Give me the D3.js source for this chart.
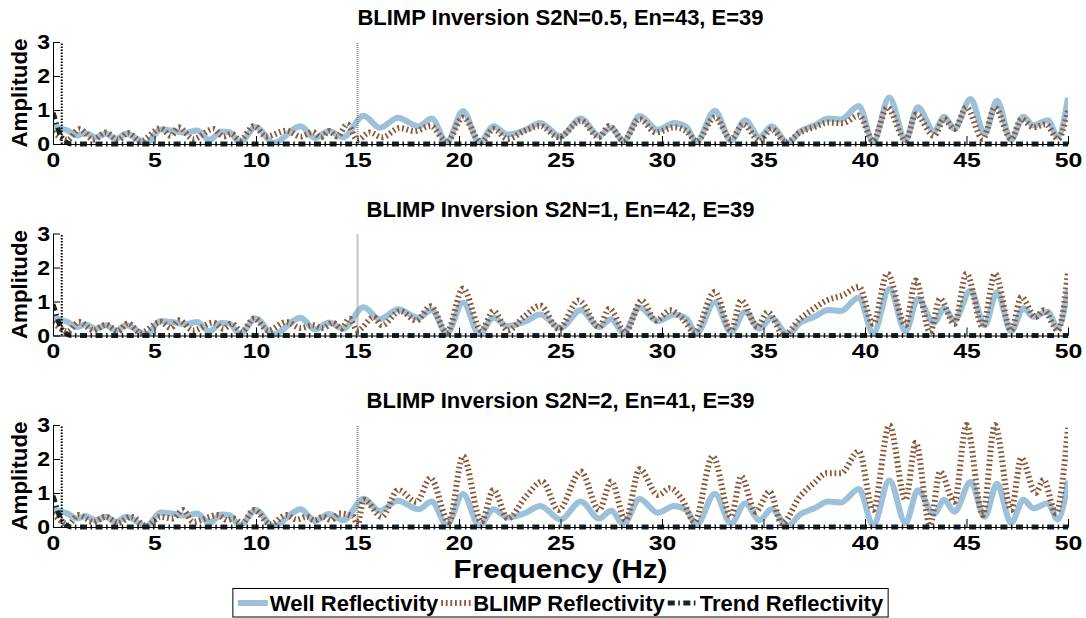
<!DOCTYPE html>
<html>
<head>
<meta charset="utf-8">
<script src="https://cdn.jsdelivr.net/npm/d3@7"></script>
<style>
  body { margin: 0; background: #fff; }
  text { font-family: "Liberation Sans", Arial, sans-serif; font-weight: bold; fill: #000; }
</style>
</head>
<body>
<svg id="chart" width="1086" height="618"></svg>
<script>
// ---- Data -------------------------------------------------------------
const panelTitles = [
  "BLIMP Inversion S2N=0.5, En=43, E=39",
  "BLIMP Inversion S2N=1, En=42, E=39",
  "BLIMP Inversion S2N=2, En=41, E=39"
];
const xTicks = [0, 5, 10, 15, 20, 25, 30, 35, 40, 45, 50];
const yTicks = [0, 1, 2, 3];
const legendLabels = ["Well Reflectivity", "BLIMP Reflectivity", "Trend Reflectivity"];
const xLabel = "Frequency (Hz)";
const yLabel = "Amplitude";

// Band limits of the inversion (Hz)
const bandLowHz = 0.43;
const bandHighHz = 15;

// Well reflectivity amplitude spectrum (same well in every panel)
const wellFreq = [0, 0.3, 0.7, 1.2, 1.6, 2.1, 2.6, 3.1, 3.6, 4.6, 5.3, 6.0, 6.5, 7.1, 7.7, 8.3, 8.7, 9.2, 10.0, 10.85,
  12.2, 12.9, 13.6, 14.3, 15.3, 16.1, 17.0, 18.0, 18.65, 19.4, 20.2, 21.0, 21.7, 22.4, 23.3, 24.0, 25.0, 26.0, 26.9, 27.5,
  28.1, 28.9, 29.8, 30.6, 31.2, 31.7, 32.6, 33.4, 34.1, 34.8, 35.4, 36.2, 36.8, 37.5, 38.2, 38.8, 39.7, 40.4, 41.2, 42.0,
  42.6, 43.4, 43.9, 44.4, 45.2, 45.9, 46.5, 47.2, 47.8, 48.3, 49.0, 49.5, 50];
const wellAmp = [0.55, 0.47, 0.4, 0.25, 0.32, 0.2, 0.3, 0.15, 0.3, 0.03, 0.43, 0.38, 0.33, 0.4, 0.12, 0.37, 0.35, 0.05, 0.5, 0.03,
  0.52, 0.18, 0.38, 0.2, 0.83, 0.48, 0.77, 0.52, 0.75, 0.06, 0.97, 0.04, 0.52, 0.28, 0.42, 0.62, 0.22, 0.75, 0.25, 0.48,
  0.08, 0.82, 0.42, 0.62, 0.5, 0.06, 0.98, 0.1, 0.7, 0.2, 0.52, 0.03, 0.37, 0.55, 0.75, 0.72, 1.12, 0.05, 1.37, 0.12,
  1.08, 0.38, 0.8, 0.45, 1.32, 0.3, 1.27, 0.12, 0.8, 0.55, 0.7, 0.22, 1.36];

// Low-frequency trend reflectivity spectrum
const trendFreq = [0, 0.15, 0.3, 0.5, 0.7, 0.9, 50];
const trendAmp = [0.92, 0.65, 0.35, 0.15, 0.04, 0, 0];

// BLIMP reflectivity spectra, one per noise level
const blimpFreqS05 = [0, 0.35, 0.7, 1.3, 2.0, 2.6, 3.2, 3.7, 4.3, 5.3, 5.8, 6.2, 6.9, 7.9, 8.4, 8.8, 9.2, 9.9, 10.5, 11.5,
  12.2, 12.8, 13.2, 13.6, 14.0, 14.5, 15.0, 15.6, 16.2, 17.1, 17.8, 18.6, 19.4, 20.2, 21.1, 21.7, 22.4, 23.2, 24.0, 24.9,
  26.0, 26.9, 27.4, 28.1, 28.9, 29.7, 30.6, 31.2, 31.7, 32.6, 33.4, 34.0, 34.8, 35.4, 36.1, 36.8, 37.5, 38.2, 38.9, 39.7,
  40.4, 41.1, 42.0, 42.5, 43.4, 43.9, 44.4, 45.0, 45.8, 46.4, 47.2, 47.7, 48.3, 48.9, 49.5, 50];
const blimpAmpS05 = [0.35, 0.2, 0.12, 0.44, 0.13, 0.34, 0.12, 0.32, 0.08, 0.46, 0.24, 0.49, 0.15, 0.44, 0.22, 0.3, 0.12, 0.53, 0.22, 0.39,
  0.22, 0.35, 0.2, 0.38, 0.22, 0.58, 0.12, 0.34, 0.2, 0.47, 0.38, 0.53, 0.05, 0.78, 0.05, 0.44, 0.15, 0.38, 0.53, 0.2,
  0.68, 0.2, 0.53, 0.1, 0.73, 0.34, 0.49, 0.38, 0.08, 0.78, 0.15, 0.58, 0.1, 0.44, 0.05, 0.34, 0.5, 0.63, 0.61, 0.84,
  0.1, 1.07, 0.1, 0.87, 0.24, 0.73, 0.44, 1.07, 0.15, 1.07, 0.15, 0.73, 0.49, 0.58, 0.15, 0.97];

const blimpFreqS1 = [0, 0.35, 0.7, 1.3, 2.0, 2.6, 3.2, 3.7, 4.3, 5.3, 5.8, 6.2, 6.9, 7.9, 8.4, 8.8, 9.3, 9.9, 10.6, 11.5,
  12.2, 12.8, 13.3, 13.8, 14.2, 14.6, 15.0, 15.8, 16.2, 17.1, 17.9, 18.6, 19.4, 20.2, 21.1, 21.7, 22.4, 23.2, 24.0, 24.9,
  25.9, 26.9, 27.4, 28.2, 29.0, 29.7, 30.4, 31.0, 31.6, 32.6, 33.4, 33.9, 34.7, 35.2, 36.0, 36.8, 37.5, 38.1, 38.9, 39.7,
  40.4, 41.1, 42.0, 42.5, 43.2, 43.7, 44.4, 45.0, 45.8, 46.4, 47.2, 47.7, 48.4, 48.8, 49.5, 50];
const blimpAmpS1 = [0.38, 0.22, 0.12, 0.4, 0.15, 0.32, 0.13, 0.36, 0.08, 0.4, 0.22, 0.45, 0.15, 0.38, 0.2, 0.35, 0.12, 0.5, 0.15, 0.4,
  0.22, 0.3, 0.22, 0.38, 0.2, 0.5, 0.15, 0.54, 0.3, 0.72, 0.44, 0.86, 0.1, 1.38, 0.15, 0.72, 0.15, 0.55, 0.88, 0.2,
  1.03, 0.25, 0.79, 0.1, 1.03, 0.44, 0.74, 0.5, 0.1, 1.28, 0.15, 1.03, 0.25, 0.69, 0.02, 0.49, 0.8, 1.03, 1.18, 1.43,
  0.34, 1.82, 0.3, 1.62, 0.1, 1.08, 0.34, 1.82, 0.25, 1.82, 0.15, 1.13, 0.54, 0.74, 0.15, 1.87];

const blimpFreqS2 = [0, 0.35, 0.75, 1.25, 2.0, 2.6, 3.2, 3.85, 4.6, 5.3, 5.9, 6.4, 6.9, 8.1, 8.6, 8.9, 9.3, 9.9, 10.7, 11.5,
  12.0, 12.5, 12.9, 13.3, 13.7, 14.1, 14.8, 15.0, 15.3, 16.2, 17.0, 17.9, 18.6, 19.5, 20.2, 21.1, 21.7, 22.4, 23.3, 24.1,
  24.9, 26.0, 26.9, 27.5, 28.2, 28.9, 29.8, 30.4, 31.0, 31.6, 32.5, 33.4, 33.9, 34.6, 35.3, 35.9, 36.8, 37.5, 38.1, 38.8,
  39.7, 40.4, 41.2, 42.0, 42.5, 43.2, 43.7, 44.4, 45.0, 45.8, 46.4, 47.2, 47.7, 48.4, 48.8, 49.4, 50];
const blimpAmpS2 = [0.4, 0.2, 0.08, 0.35, 0.15, 0.3, 0.12, 0.3, 0.03, 0.3, 0.25, 0.5, 0.15, 0.35, 0.2, 0.25, 0.1, 0.5, 0.08, 0.35,
  0.22, 0.3, 0.2, 0.3, 0.2, 0.4, 0.3, 0.05, 0.8, 0.3, 1.09, 0.74, 1.44, 0.15, 2.08, 0.15, 1.09, 0.25, 0.9, 1.34,
  0.5, 1.63, 0.5, 1.34, 0.2, 1.7, 0.94, 1.14, 0.8, 0.15, 2.08, 0.3, 1.49, 0.45, 1.04, 0.1, 0.9, 1.3, 1.58, 1.58,
  2.23, 0.5, 2.99, 0.8, 2.48, 0.05, 1.63, 0.74, 3.0, 0.35, 3.0, 0.5, 2.03, 1.0, 1.39, 0.4, 2.92];

const blimpFreqs = [blimpFreqS05, blimpFreqS1, blimpFreqS2];
const blimpAmps = [blimpAmpS05, blimpAmpS1, blimpAmpS2];

// ---- Layout & styles ----------------------------------------------------
const svg = d3.select("#chart");
const plotLeft = 53, plotRight = 1068;
const panelTop = [42, 233.5, 425];
const panelHeight = 102;

const colors = { well: "#9cc1d8", blimp: "#8b5a3b", trend: "#15262a" };
const styles = {
  well:  { color: colors.well,  width: 6, dash: null },
  blimp: { color: colors.blimp, width: 6, dash: "1.8,2.8" },
  trend: { color: colors.trend, width: 5, dash: "7,3.5,1.6,3.5" }
};

const x = d3.scaleLinear().domain([0, 50]).range([plotLeft, plotRight]);
const zip = (f, a) => f.map((v, i) => [v, a[i]]);

// Widen bold glyphs horizontally (wide Helvetica-style numerals)
function widen(sel, factor) {
  sel.each(function () {
    const w = this.getComputedTextLength();
    d3.select(this).attr("textLength", w * factor).attr("lengthAdjust", "spacingAndGlyphs");
  });
}

panelTitles.forEach((title, i) => {
  const top = panelTop[i];
  const y = d3.scaleLinear().domain([0, 3]).range([top + panelHeight, top]);
  const g = svg.append("g");

  const clipId = "clip" + i;
  svg.append("defs").append("clipPath").attr("id", clipId)
    .append("rect").attr("x", plotLeft).attr("y", top - 4)
    .attr("width", plotRight - plotLeft).attr("height", panelHeight + 8);

  const line = d3.line().x(d => x(d[0])).y(d => y(d[1])).curve(d3.curveMonotoneX);
  const plot = g.append("g").attr("clip-path", `url(#${clipId})`);

  const series = [
    { data: zip(wellFreq, wellAmp), s: styles.well },
    { data: zip(blimpFreqs[i], blimpAmps[i]), s: styles.blimp },
    { data: zip(trendFreq, trendAmp), s: styles.trend }
  ];

  // Axes first so the curves sit above them
  g.append("g").attr("transform", `translate(0,${top + panelHeight})`)
    .call(d3.axisBottom(x).tickValues(xTicks).tickFormat(d3.format("d"))
      .tickSize(-8).tickSizeOuter(0).tickPadding(8))
    .call(a => a.selectAll("text").style("font-size", "21px").call(widen, 1.18))
    .call(a => a.selectAll("line,path").attr("stroke", "#000"));
  g.append("g").attr("transform", `translate(${plotLeft},0)`)
    .call(d3.axisLeft(y).tickValues(yTicks).tickFormat(d3.format("d"))
      .tickSize(-7).tickSizeOuter(0).tickPadding(3))
    .call(a => a.selectAll("text").style("font-size", "21px").call(widen, 1.1))
    .call(a => a.selectAll("line,path").attr("stroke", "#000"));

  series.forEach(({ data, s }) => {
    plot.append("path").datum(data)
      .attr("d", line)
      .attr("fill", "none")
      .attr("stroke", s.color)
      .attr("stroke-width", s.width)
      .attr("stroke-linejoin", "round")
      .attr("stroke-dasharray", s.dash);
  });

  // Band-limit markers
  g.append("line")
    .attr("x1", x(bandLowHz)).attr("x2", x(bandLowHz))
    .attr("y1", y(0)).attr("y2", y(3))
    .attr("stroke", "#000").attr("stroke-width", 2).attr("stroke-dasharray", "1.5,1.5");
  g.append("line")
    .attr("x1", x(bandHighHz)).attr("x2", x(bandHighHz))
    .attr("y1", y(0)).attr("y2", y(3))
    .attr("stroke", "#8a8a8a").attr("stroke-width", 2).attr("stroke-dasharray", "1,1");

  // Title and y label
  svg.append("text")
    .attr("x", (plotLeft + plotRight) / 2).attr("y", top - 17)
    .attr("text-anchor", "middle").style("font-size", "22px")
    .text(title);
  svg.append("text")
    .attr("transform", `translate(27,${top + panelHeight / 2}) rotate(-90)`)
    .attr("text-anchor", "middle").style("font-size", "22px")
    .attr("textLength", 109).attr("lengthAdjust", "spacingAndGlyphs")
    .text(yLabel);
});

// x label
svg.append("text")
  .attr("x", (plotLeft + plotRight) / 2).attr("y", 578)
  .attr("text-anchor", "middle").style("font-size", "26px")
  .attr("textLength", 214).attr("lengthAdjust", "spacingAndGlyphs")
  .text(xLabel);

// ---- Legend ---------------------------------------------------------------
const legend = svg.append("g");
const legendStyles = [styles.well, styles.blimp, styles.trend];
const legY = 603, lineLen = 30, pad = 5, gapLT = 2, gapItem = 3;
const items = legendLabels.map((lab, k) => {
  const it = legend.append("g");
  const s = legendStyles[k];
  it.append("line").attr("x1", 0).attr("x2", lineLen).attr("y1", 0).attr("y2", 0)
    .attr("stroke", s.color).attr("stroke-width", s.width).attr("stroke-dasharray", s.dash);
  const t = it.append("text").attr("x", lineLen + gapLT).attr("y", 8)
    .style("font-size", "22px").text(lab);
  const w = lineLen + gapLT + t.node().getComputedTextLength();
  return { it, w };
});
const totalW = pad * 2 + d3.sum(items, d => d.w) + gapItem * (items.length - 1);
const boxX = (plotLeft + plotRight) / 2 - totalW / 2;
legend.insert("rect", ":first-child")
  .attr("x", boxX).attr("y", 588.5).attr("width", totalW).attr("height", 28.5)
  .attr("fill", "#fff").attr("stroke", "#000").attr("stroke-width", 1);
let cx = boxX + pad;
items.forEach(({ it, w }) => {
  it.attr("transform", `translate(${cx},${legY})`);
  cx += w + gapItem;
});
</script>
</body>
</html>
